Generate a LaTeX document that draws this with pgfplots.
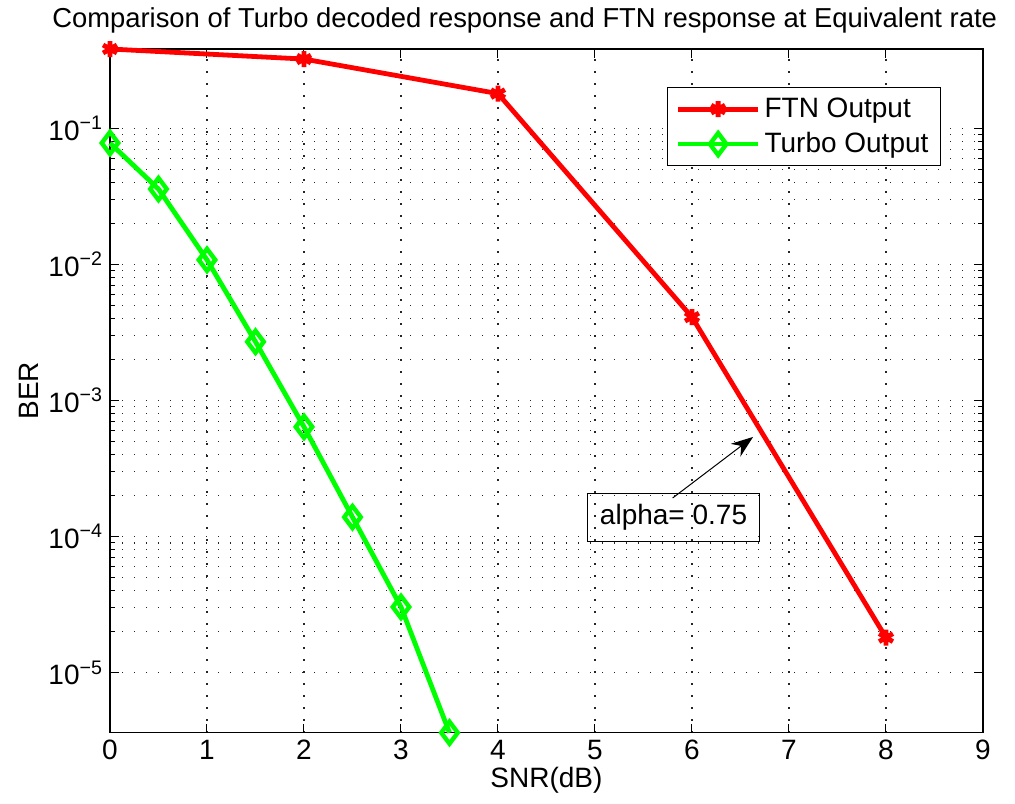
\documentclass[border=0pt]{standalone}
\usepackage{fontspec}
\setmainfont{Liberation Sans}
\usepackage{pgfplots}
\pgfplotsset{compat=1.18}
\usetikzlibrary{arrows.meta}
\definecolor{ftnred}{RGB}{255,0,0}
\definecolor{turbogreen}{RGB}{0,255,0}
\begin{document}
\begin{tikzpicture}
% page = 1015x803 px at 0.5pt per px, axis box placed at origin
\path[use as bounding box] (-55pt,-35.15pt) rectangle (452.5pt,366.35pt);
\begin{axis}[
  scale only axis,
  width=436.5pt, height=341.85pt,
  ymode=log,
  xmin=0, xmax=9,
  ymin=3.62e-6, ymax=0.383,
  xtick={0,1,2,3,4,5,6,7,8,9},
  xticklabels={0,1,2,3,4,5,6,7,8,9},
  ytick={1e-5,1e-4,1e-3,1e-2,1e-1},
  yticklabels={10\textsuperscript{−5},10\textsuperscript{−4},10\textsuperscript{−3},10\textsuperscript{−2},10\textsuperscript{−1}},
  tick label style={font=\fontsize{14}{16}\selectfont},
  label style={font=\fontsize{14}{16}\selectfont},
  xlabel={SNR(dB)}, ylabel={BER},
  xlabel style={yshift=3pt},
  ylabel style={yshift=-2pt},
  title={Comparison of Turbo decoded response and FTN response at Equivalent rate},
  title style={font=\fontsize{13.7}{16}\selectfont, at={(0.475,1)}, anchor=south, yshift=-1.5pt},
  tick align=inside,
  major tick length=4.5pt, minor tick length=2.5pt,
  axis line style={line width=0.6pt},
  tick style={line width=0.5pt, black},
  xmajorgrids, ymajorgrids, yminorgrids,
  major grid style={black!85, line width=0.7pt, dash pattern=on 0.7pt off 5.3pt},
  minor grid style={black!85, line width=0.7pt, dash pattern=on 0.7pt off 5.3pt},
  legend style={at={(0.952,0.944)}, anchor=north east, draw=black, line width=0.6pt,
    font=\fontsize{14}{16}\selectfont, inner xsep=4pt, inner ysep=3pt,
    cells={anchor=west}, row sep=2pt},
  legend image code/.code={%
    \draw[mark repeat=2, mark phase=2] plot coordinates {(0pt,0pt) (20pt,0pt) (40pt,0pt)};},
  clip=false,
]
\addplot[ftnred, line width=2.4pt, mark=asterisk, mark size=4pt,
         mark options={line width=2.4pt}]
  coordinates {
    (0,0.383) (2,0.323) (4,0.180) (6,0.0041) (8,1.81e-5)
  };
\addlegendentry{FTN Output}
\addplot[turbogreen, line width=2.4pt, mark=diamond, mark size=5.5pt,
         mark options={line width=2.2pt, solid}]
  coordinates {
    (0,0.078) (0.5,0.0358) (1,0.0108) (1.5,0.0027) (2,6.4e-4)
    (2.5,1.39e-4) (3,3.04e-5) (3.5,3.62e-6)
  };
\addlegendentry{Turbo Output}
% text arrow annotation
\draw[black, line width=0.5pt, -{Stealth[length=11pt, width=8pt]}]
  (axis cs:5.80,1.92e-4) -- (axis cs:6.63,5.4e-4);
\node[draw=black, line width=0.5pt, inner xsep=6pt, inner ysep=4pt,
      minimum width=83pt, minimum height=24pt,
      font=\fontsize{14}{16}\selectfont]
  at (axis cs:5.81,1.39e-4) {alpha= 0.75};
\end{axis}
\end{tikzpicture}
\end{document}
